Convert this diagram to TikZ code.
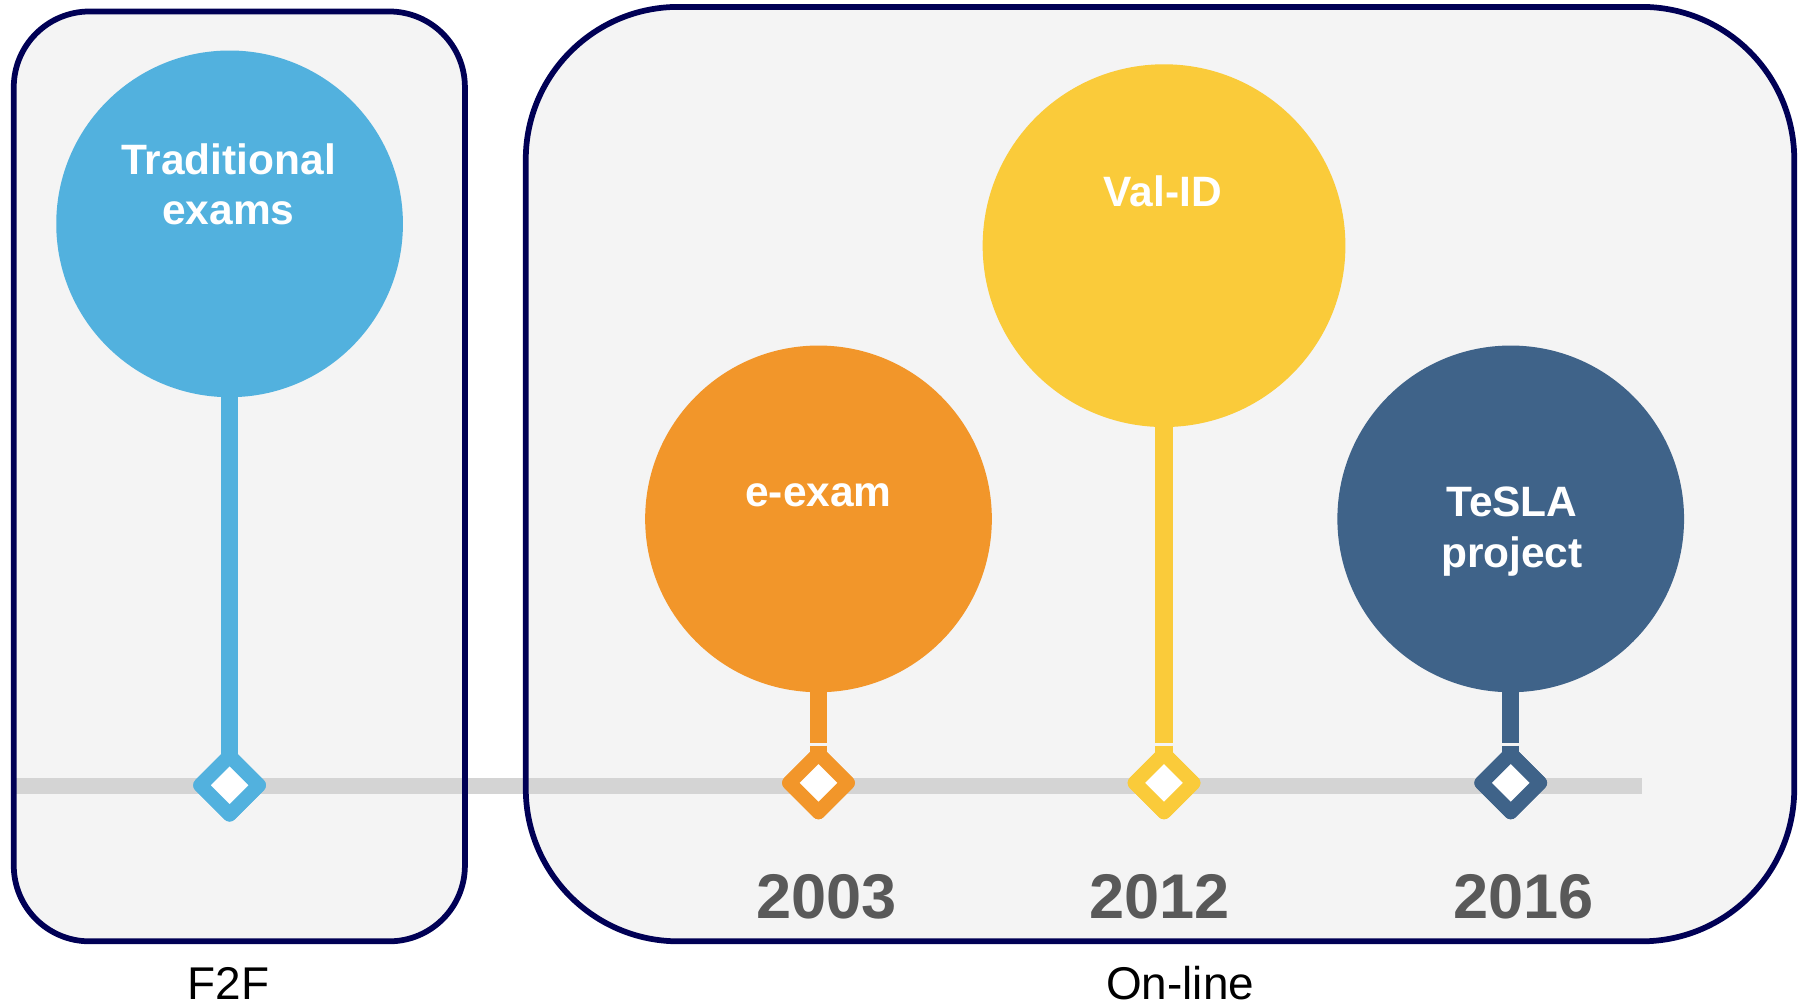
\documentclass[tikz,border=0pt]{standalone}
\usepackage{fontspec}
\setmainfont{Liberation Sans}
\usetikzlibrary{shapes.geometric}
\definecolor{navy}{HTML}{000055}
\definecolor{boxfill}{HTML}{F4F4F4}
\definecolor{barg}{HTML}{D4D4D4}
\definecolor{cblue}{HTML}{52B1DE}
\definecolor{corange}{HTML}{F2962A}
\definecolor{cyellow}{HTML}{FACB3A}
\definecolor{cdark}{HTML}{3F6389}
\definecolor{yeargray}{HTML}{595959}
\tikzset{
  ball/.style={circle, inner sep=0pt, fill=#1, draw=none},
  stem/.style={draw=#1, line width=15pt},
  marker/.style={diamond, aspect=1, inner sep=0pt, minimum size=56pt, draw=#1, fill=white, line width=12.5pt, line join=round},
  intext/.style={text=white, font=\fontsize{37}{44}\selectfont\bfseries, align=center, anchor=base, inner sep=0pt},
  yeartext/.style={text=yeargray, font=\fontsize{55}{60}\selectfont\bfseries, anchor=base, inner sep=0pt},
  captext/.style={text=black, font=\fontsize{40}{48}\selectfont, anchor=base, inner sep=0pt},
  frame/.style={draw=navy, line width=5pt}
}
\begin{document}
\begin{tikzpicture}[x=1pt,y=-1pt]
\useasboundingbox (0,0) rectangle (1568,877);
% box fills
\fill[boxfill, rounded corners=66pt] (12,10) rectangle (405,820);
\fill[boxfill, rounded corners=133pt] (458,6) rectangle (1563,820);
% timeline bar
\coordinate (barL) at (12,685);
\coordinate (barR) at (1430,685);
\draw[barg, line width=14pt] (barL) -- (barR);
% box borders
\draw[frame, rounded corners=66pt] (12,10) rectangle (405,820);
\draw[frame, rounded corners=133pt] (458,6) rectangle (1563,820);
% circles
\node[ball=cblue, minimum size=302pt] (c1) at (200,195) {};
\node[ball=corange, minimum size=302pt] (c2) at (713,452) {};
\node[ball=cyellow, minimum size=316pt] (c3) at (1014,214) {};
\node[ball=cdark, minimum size=302pt] (c4) at (1316,452) {};
% diamonds
\node[marker=cblue] (d1) at (200,684) {};
\node[marker=corange] (d2) at (713,682) {};
\node[marker=cyellow] (d3) at (1014,682) {};
\node[marker=cdark] (d4) at (1316,682) {};
% gap points
\coordinate (g2a) at (713,647); \coordinate (g2b) at (713,649.5);
\coordinate (g3a) at (1014,647); \coordinate (g3b) at (1014,649.5);
\coordinate (g4a) at (1316,647); \coordinate (g4b) at (1316,649.5);
% stems
\draw[stem=cblue] ([yshift=8pt]c1.south) -- ([yshift=-8pt]d1.north);
\draw[stem=corange] ([yshift=12pt]c2.south) -- (g2a);
\draw[stem=corange] (g2b) -- ([yshift=-8pt]d2.north);
\draw[stem=cyellow] ([yshift=8pt]c3.south) -- (g3a);
\draw[stem=cyellow] (g3b) -- ([yshift=-8pt]d3.north);
\draw[stem=cdark] ([yshift=8pt]c4.south) -- (g4a);
\draw[stem=cdark] (g4b) -- ([yshift=-8pt]d4.north);
% redraw diamonds on top of stems
\node[marker=cblue] at (d1) {};
\node[marker=corange] at (d2) {};
\node[marker=cyellow] at (d3) {};
\node[marker=cdark] at (d4) {};
% circle texts
\node[intext] (t1) at (199,196) {Traditional\\exams};
\node[intext] (t2) at (713,441) {e-exam};
\node[intext] (t3) at (1013,180) {Val-ID};
\node[intext] (t4) at (1317,494) {TeSLA\\project};
% years
\node[yeartext] (y2) at (720,800) {2003};
\node[yeartext] (y3) at (1010,800) {2012};
\node[yeartext] (y4) at (1327,800) {2016};
% captions
\node[captext] (f2f) at (199,871) {F2F};
\node[captext] (onl) at (1028,871) {On-line};
\end{tikzpicture}
\end{document}
